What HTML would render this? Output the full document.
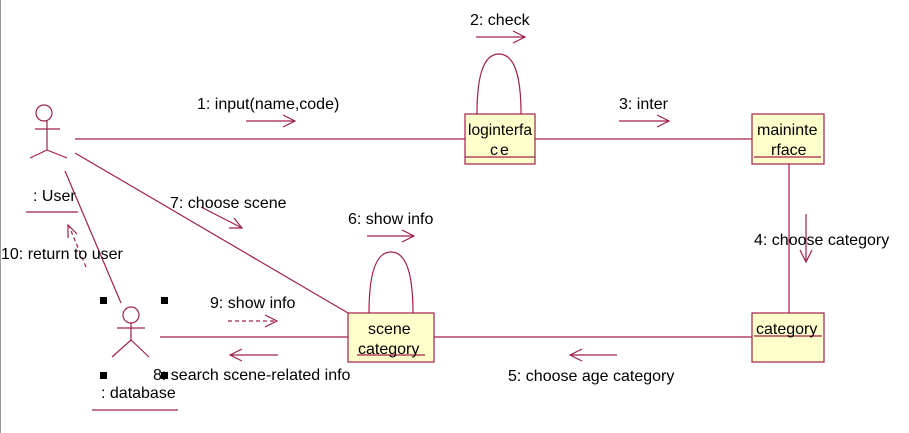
<!DOCTYPE html>
<html><head><style>
html,body{margin:0;padding:0;background:#fff;}
svg{display:block;}
text{font-family:"Liberation Sans",Arial,sans-serif;font-size:16px;fill:#000;}
</style></head><body>
<svg width="909" height="433" viewBox="0 0 909 433" xmlns="http://www.w3.org/2000/svg">
<line x1="0.5" y1="0" x2="0.5" y2="433" stroke="#999" stroke-width="1"/>
<g stroke="#a0204a" stroke-width="1.2" fill="none">
<line x1="75" y1="139" x2="465" y2="139"/>
<line x1="535" y1="139" x2="752" y2="139"/>
<line x1="789" y1="164" x2="789" y2="313"/>
<line x1="434" y1="337" x2="752" y2="337"/>
<line x1="160" y1="337" x2="348" y2="337"/>
<line x1="75" y1="153" x2="348" y2="313"/>
<line x1="65" y1="171" x2="121" y2="303"/>
<path d="M477 114 C477 80 482 54 499 54 C516 54 521 80 521 114"/>
<path d="M369 313 C369 279 374 252 391 252 C408 252 413 279 413 313"/>
<path d="M246 121 H295 M283 115 L295 121 L283 127"/>
<path d="M476 37 H525 M513 31 L525 37 L513 43"/>
<path d="M619 121 H669 M657 115 L669 121 L657 127"/>
<path d="M806 214 V262 M800 250 L806 262 L812 250"/>
<path d="M617 355 H570 M582 349 L570 355 L582 361"/>
<path d="M367 236 H414 M402 230 L414 236 L402 242"/>
<path d="M201 207 L242 228 M229 228 L242 228 L234 218"/>
<path d="M278 355 H230 M242 349 L230 355 L242 361"/>
<path d="M228 321 H277" stroke-dasharray="4,3"/>
<path d="M265 315 L277 321 L265 327"/>
<path d="M86 267 L69 226" stroke-dasharray="4,3"/>
<path d="M68 238 L68 225 L77 234"/>
<circle cx="44" cy="113" r="8"/>
<path d="M35 129 H60 M47 121 V150 M47 150 L30 158 M47 150 L67 158"/>
<circle cx="131" cy="315" r="8"/>
<path d="M117 328 H145 M131 323 V340 M131 340 L112 357 M131 340 L149 357"/>
<line x1="26" y1="212" x2="78" y2="212"/>
<line x1="92" y1="410" x2="178" y2="410"/>
</g>
<g stroke="#a0204a" stroke-width="1.2" fill="#ffffcc">
<rect x="465" y="114" width="70" height="50"/>
<rect x="752" y="114" width="72" height="50"/>
<rect x="752" y="313" width="72" height="49"/>
<rect x="348" y="313" width="86" height="49"/>
</g>
<g stroke="#a0204a" stroke-width="1.2">
<line x1="465" y1="157" x2="535" y2="157"/>
<line x1="754" y1="157" x2="821" y2="157"/>
<line x1="754" y1="336" x2="822" y2="336"/>
<line x1="357" y1="355" x2="425" y2="355"/>
</g>
<text x="468" y="135" textLength="64" lengthAdjust="spacingAndGlyphs">loginterfa</text>
<text x="490" y="155" letter-spacing="2">ce</text>
<text x="757" y="135">maininte</text>
<text x="771" y="155">rface</text>
<text x="756" y="334">category</text>
<text x="368" y="334">scene</text>
<text x="358" y="354">category</text>
<g fill="#000">
<rect x="100" y="297" width="7" height="7"/>
<rect x="161" y="297" width="7" height="7"/>
<rect x="100" y="372" width="7" height="7"/>
<rect x="161" y="372" width="7" height="7"/>
</g>
<text x="197" y="109">1: input(name,code)</text>
<text x="470" y="25">2: check</text>
<text x="619" y="109">3: inter</text>
<text x="754" y="245">4: choose category</text>
<text x="508" y="381">5: choose age category</text>
<text x="348" y="224">6: show info</text>
<text x="170" y="208">7: choose scene</text>
<text x="153" y="380">8: search scene-related info</text>
<text x="210" y="308">9: show info</text>
<text x="1" y="259">10: return to user</text>
<text x="33" y="201">: User</text>
<text x="101" y="398">: database</text>
</svg>
</body></html>
